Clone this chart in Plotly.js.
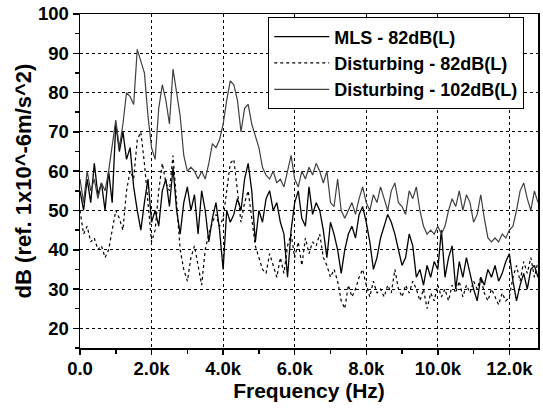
<!DOCTYPE html>
<html>
<head>
<meta charset="utf-8">
<script src="https://cdn.plot.ly/plotly-3.0.1.min.js"></script>
<style>html,body{margin:0;padding:0;background:#fff;}#chart{width:543px;height:409px;}</style>
</head>
<body>
<div id="chart"></div>
<script>
// frequency grid (Hz), 100 Hz steps 0 .. 12800
const freqHz = Array.from({length: 129}, (_, i) => i * 100);

const seriesNames = ["MLS - 82dB(L)", "Disturbing - 82dB(L)", "Disturbing - 102dB(L)"];

const mls82 = [
55,50,58,52,62,54,57,50,60,52,
72,65,70,63,66,56,50,45,52,58,
47,50,46,55,58,51,61,50,44,52,
56,50,54,44,55,50,42,48,52,45,
35,50,47,49,53,50,58,62,55,42,
50,47,53,55,50,52,47,44,33,45,
52,55,48,46,56,49,52,50,45,38,
47,44,40,34,40,44,46,43,49,51,
47,42,35,38,43,46,49,47,44,40,
36,38,44,41,33,35,31,36,33,37,
35,45,33,38,41,30,37,33,38,34,
30,27,33,31,35,33,36,32,34,37,
39,32,27,31,34,30,35,36,33];

const dist82 = [
50,44,46,42,43,40,41,38,40,45,
50,48,45,55,60,58,68,70,62,52,
42,45,55,62,57,55,64,52,40,35,
32,38,41,36,31,40,44,47,49,46,
48,55,62,63,55,47,52,55,48,41,
38,35,34,39,36,33,38,34,41,44,
38,42,36,43,39,42,41,44,38,36,
33,35,32,27,25,31,28,30,33,35,
31,28,32,29,30,28,31,29,35,30,
28,31,29,32,30,27,30,25,29,27,
31,28,30,27,31,29,32,28,31,29,
32,30,33,29,27,30,28,26,29,27,
28,33,36,32,37,34,38,33,37];

const dist102 = [
58,52,60,55,58,53,57,55,60,66,
73,66,72,80,79,77,91,88,85,74,
66,63,76,82,78,72,86,80,74,64,
60,61,60,58,60,58,62,67,66,68,
72,78,83,82,78,70,76,77,72,69,
66,61,59,58,60,57,58,56,60,64,
58,56,60,58,61,59,62,60,57,60,
52,51,58,50,48,50,52,49,53,56,
52,50,54,52,56,53,50,55,57,52,
51,49,55,53,56,50,46,44,45,44,
46,44,46,50,53,51,55,50,54,52,
47,49,54,48,43,42,43,42,44,43,
45,46,50,55,57,53,50,55,52];

const xTickVals = [0, 2000, 4000, 6000, 8000, 10000, 12000];
const xTickText = ["0.0", "2.0k", "4.0k", "6.0k", "8.0k", "10.0k", "12.0k"];
const yTickVals = [20, 30, 40, 50, 60, 70, 80, 90, 100];

const fontFam = "Liberation Sans, Arial, sans-serif";

const traces = [
  {x: freqHz, y: mls82, name: seriesNames[0], type: "scatter", mode: "lines",
   line: {color: "#000000", width: 1.3}},
  {x: freqHz, y: dist82, name: seriesNames[1], type: "scatter", mode: "lines",
   line: {color: "#000000", width: 1.2, dash: "dot"}},
  {x: freqHz, y: dist102, name: seriesNames[2], type: "scatter", mode: "lines",
   line: {color: "#404040", width: 1.2}}
];

const layout = {
  width: 543, height: 409,
  margin: {l: 80, r: 5, t: 14, b: 61},
  paper_bgcolor: "#ffffff", plot_bgcolor: "#ffffff",
  font: {family: fontFam, color: "#000", size: 18, weight: "bold"},
  showlegend: true,
  legend: {
    x: 0.97, xanchor: "right", y: 0.99, yanchor: "top",
    bgcolor: "#ffffff", bordercolor: "#000", borderwidth: 1,
    font: {family: fontFam, size: 18, color: "#000", weight: "bold"},
    itemwidth: 55,
    tracegroupgap: 0
  },
  xaxis: {
    range: [0, 12800],
    tickmode: "array", tickvals: xTickVals, ticktext: xTickText,
    ticks: "outside", ticklen: 5, tickwidth: 1.5, tickcolor: "#000",
    ticklabelstandoff: -2,
    minor: {dtick: 1000, tick0: 0, ticks: "outside", ticklen: 4, tickcolor: "#000", showgrid: false},
    showline: true, linecolor: "#000", linewidth: 1.5, mirror: true,
    showgrid: true, gridcolor: "#000", griddash: "dot", gridwidth: 1,
    zeroline: false,
    tickfont: {family: fontFam, size: 18.5, color: "#000", weight: "bold"},
    title: {text: "Frequency (Hz)", standoff: 2,
            font: {family: fontFam, size: 21, color: "#000", weight: "bold"}}
  },
  yaxis: {
    range: [15, 100],
    tickmode: "array", tickvals: yTickVals,
    ticks: "outside", ticklen: 6, tickwidth: 1.5, tickcolor: "#000",
    minor: {dtick: 5, tick0: 0, ticks: "outside", ticklen: 4, tickcolor: "#000", showgrid: false},
    showline: true, linecolor: "#000", linewidth: 1.5, mirror: true,
    showgrid: true, gridcolor: "#000", griddash: "dot", gridwidth: 1,
    zeroline: false,
    tickfont: {family: fontFam, size: 18.5, color: "#000", weight: "bold"},
    title: {text: "dB (ref. 1x10^-6m/s^2)", standoff: 0,
            font: {family: fontFam, size: 22, color: "#000", weight: "bold"}}
  }
};

Plotly.newPlot("chart", traces, layout, {displayModeBar: false, staticPlot: true});
</script>
</body>
</html>
